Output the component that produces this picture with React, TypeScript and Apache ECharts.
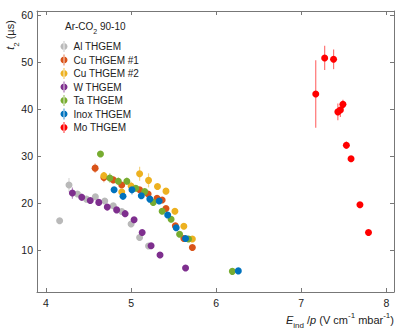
import React, { useEffect, useRef } from "react";
import * as echarts from "echarts";

const xTicks = [4, 5, 6, 7, 8];
const yTicks = [10, 20, 30, 40, 50, 60];

const seriesNames = ["Al THGEM", "Cu THGEM #1", "Cu THGEM #2", "W THGEM", "Ta THGEM", "Inox THGEM", "Mo THGEM"];
const seriesColors = ["#b9b9b9", "#d95319", "#edb120", "#7e2f8e", "#77ac30", "#0072bd", "#ff0000"];

const alX = [4.16, 4.27, 4.37, 4.475, 4.58, 4.69, 4.79, 4.89, 5.0, 5.1, 5.205];
const alY = [16.2, 23.8, 21.9, 20.8, 21.3, 20.4, 19.4, 18.15, 15.5, 12.6, 10.8];
const alE = [0.4, 1.5, 0.6, 0.5, 0.5, 0.4, 0.4, 0.4, 0.4, 0.4, 0.4];

const cu1X = [4.577, 4.68, 4.79, 4.89, 5.1, 5.2, 5.305, 5.365, 5.41, 5.52, 5.62, 5.72];
const cu1Y = [27.4, 25.4, 24.9, 23.8, 22.8, 21.9, 21.0, 20.6, 18.8, 15.1, 12.4, 10.5];
const cu1E = [1.0, 1.0, 0.7, 0.5, 0.5, 0.5, 0.4, 0.4, 0.4, 0.4, 0.4, 0.4];

const cu2X = [4.68, 4.89, 5.0, 5.1, 5.205, 5.31, 5.41, 5.515, 5.62, 5.72];
const cu2Y = [25.8, 22.3, 23.6, 26.2, 24.8, 23.5, 22.5, 18.2, 15.0, 12.3];
const cu2E = [0.8, 0.6, 0.9, 1.5, 1.5, 0.5, 0.5, 0.5, 0.5, 0.5];

const wX = [4.31, 4.42, 4.52, 4.62, 4.72, 4.83, 4.93, 5.035, 5.13, 5.235, 5.34, 5.64];
const wY = [22.1, 21.2, 20.5, 20.1, 19.1, 18.5, 17.7, 16.4, 13.7, 10.85, 8.9, 6.1];
const wE = [1.2, 0.8, 0.4, 0.4, 0.4, 0.4, 0.4, 0.4, 0.4, 0.4, 0.3, 0.3];

const taX = [4.64, 4.75, 4.85, 4.95, 5.055, 5.16, 5.26, 5.365, 5.47, 5.57, 5.675, 6.19];
const taY = [30.4, 25.3, 24.6, 24.6, 23.1, 22.4, 20.1, 18.2, 16.5, 13.3, 12.3, 5.4];
const taE = [0.4, 1.0, 0.8, 0.8, 0.5, 0.5, 0.4, 0.4, 0.4, 0.4, 0.4, 0.3];

const inoxX = [4.8, 4.905, 5.01, 5.12, 5.22, 5.33, 5.43, 5.53, 5.64, 6.26];
const inoxY = [22.8, 21.4, 22.8, 21.5, 20.8, 20.4, 17.4, 14.7, 12.4, 5.5];
const inoxE = [0.5, 0.8, 1.0, 0.5, 0.4, 0.4, 0.4, 0.4, 0.4, 0.3];

const moX = [7.17, 7.275, 7.38, 7.43, 7.46, 7.49, 7.53, 7.585, 7.69, 7.79];
const moY = [43.2, 50.9, 50.6, 39.4, 39.8, 41.0, 32.3, 29.4, 19.6, 13.7];
const moE = [7.2, 2.6, 2.1, 1.8, 1.5, 1.0, 0.8, 0.6, 0.4, 0.4];

const allX = [alX, cu1X, cu2X, wX, taX, inoxX, moX];
const allY = [alY, cu1Y, cu2Y, wY, taY, inoxY, moY];
const allE = [alE, cu1E, cu2E, wE, taE, inoxE, moE];

const FONT = "Liberation Sans, Arial, sans-serif";
const AXIS_COLOR = "#777";

export default function App() {
  const ref = useRef<HTMLDivElement>(null);
  useEffect(() => {
    if (!ref.current) return;
    document.body.style.margin = "0";
    const chart = echarts.init(ref.current, undefined, { renderer: "svg" });

    const series: any[] = [];
    seriesNames.forEach((name, i) => {
      const data = allX[i].map((x, k) => [x, allY[i][k], allE[i][k]]);
      series.push({
        type: "custom",
        name: name + " err",
        xAxisIndex: 0,
        yAxisIndex: 0,
        silent: true,
        data,
        renderItem: (params: any, api: any) => {
          const x = api.value(0);
          const y = api.value(1);
          const e = api.value(2);
          const p1 = api.coord([x, y - e]);
          const p2 = api.coord([x, y + e]);
          return {
            type: "line",
            shape: { x1: p1[0], y1: p1[1], x2: p2[0], y2: p2[1] },
            style: { stroke: seriesColors[i], lineWidth: 1.2, opacity: 0.55 },
          };
        },
        z: 2,
      });
      series.push({
        type: "scatter",
        name,
        data: data.map((d) => [d[0], d[1]]),
        symbol: "circle",
        symbolSize: 7,
        itemStyle: { color: seriesColors[i], opacity: 1 },
        z: 3,
      });
    });

    const axisLineStyle = { color: AXIS_COLOR, width: 1 };

    chart.setOption({
      animation: false,
      grid: { left: 37, right: 5, top: 11, bottom: 42 },
      title: {
        left: 60,
        top: 16,
        text: "{a|Ar-CO}{s|2}{a| 90-10}",
        textStyle: {
          fontWeight: "normal",
          rich: {
            a: { fontFamily: FONT, fontSize: 10, fontWeight: "normal", color: "#222", lineHeight: 14, verticalAlign: "top" },
            s: { fontFamily: FONT, fontSize: 7, fontWeight: "normal", color: "#222", lineHeight: 14, verticalAlign: "bottom" },
          },
        },
      },
      legend: {
        orient: "vertical",
        left: 55.5,
        top: 36,
        itemWidth: 7,
        itemHeight: 11,
        itemGap: 2.5,
        data: seriesNames.map((n, i) => ({
          name: n,
          icon: "path://M3.1,0h0.8v11h-0.8z M3.5,2a3.5,3.5 0 1 0 0.001,0z",
          itemStyle: { color: seriesColors[i] },
        })),
        textStyle: { fontFamily: FONT, fontSize: 10, color: "#222", padding: [0, 0, 0, 1] },
        selectedMode: false,
      },
      xAxis: [
        {
          type: "value",
          min: 3.894,
          max: 8.09,
          position: "bottom",
          axisLine: { show: true, lineStyle: axisLineStyle },
          axisTick: { show: true, inside: true, length: 4, customValues: xTicks, lineStyle: axisLineStyle },
          axisLabel: { customValues: xTicks, fontFamily: FONT, fontSize: 10.5, color: "#222", margin: 5 },
          splitLine: { show: false },
        },
        {
          type: "value",
          min: 3.894,
          max: 8.09,
          position: "top",
          axisLine: { show: true, lineStyle: axisLineStyle },
          axisTick: { show: true, inside: true, length: 4, customValues: xTicks, lineStyle: axisLineStyle },
          axisLabel: { show: false },
          splitLine: { show: false },
        },
      ],
      yAxis: [
        {
          type: "value",
          min: 1,
          max: 60.9,
          position: "left",
          axisLine: { show: true, lineStyle: axisLineStyle },
          axisTick: { show: true, inside: true, length: 4, customValues: yTicks, lineStyle: axisLineStyle },
          axisLabel: { customValues: yTicks, fontFamily: FONT, fontSize: 10.5, color: "#222", margin: 4 },
          splitLine: { show: false },
        },
        {
          type: "value",
          min: 1,
          max: 60.9,
          position: "right",
          axisLine: { show: true, lineStyle: axisLineStyle },
          axisTick: { show: true, inside: true, length: 4, customValues: yTicks, lineStyle: axisLineStyle },
          axisLabel: { show: false },
          splitLine: { show: false },
        },
      ],
      graphic: [
        {
          type: "text",
          x: 12,
          y: 35,
          rotation: Math.PI / 2,
          style: {
            text: "{i|t}{s|2}{n| (µs)}",
            align: "center",
            verticalAlign: "middle",
            rich: {
              i: { fontFamily: FONT, fontSize: 11, fontStyle: "italic", fill: "#222", lineHeight: 16, verticalAlign: "top" },
              s: { fontFamily: FONT, fontSize: 8, fill: "#222", lineHeight: 16, verticalAlign: "bottom" },
              n: { fontFamily: FONT, fontSize: 11, fill: "#222", lineHeight: 16, verticalAlign: "top" },
            },
          },
        },
        {
          type: "text",
          right: 5,
          top: 311,
          style: {
            text: "{i|E}{s|ind}{n| /}{i|p}{n| (V cm}{u|-1}{n| mbar}{u|-1}{n|)}",
            rich: {
              i: { fontFamily: FONT, fontSize: 11, fontStyle: "italic", fill: "#222", lineHeight: 18, verticalAlign: "middle" },
              s: { fontFamily: FONT, fontSize: 8, fill: "#222", lineHeight: 18, verticalAlign: "bottom" },
              n: { fontFamily: FONT, fontSize: 11, fill: "#222", lineHeight: 18, verticalAlign: "middle" },
              u: { fontFamily: FONT, fontSize: 8, fill: "#222", lineHeight: 18, verticalAlign: "top" },
            },
          },
        },
      ],
      series,
    });
    return () => chart.dispose();
  }, []);
  return <div ref={ref} style={{ width: 399, height: 334 }} />;
}
